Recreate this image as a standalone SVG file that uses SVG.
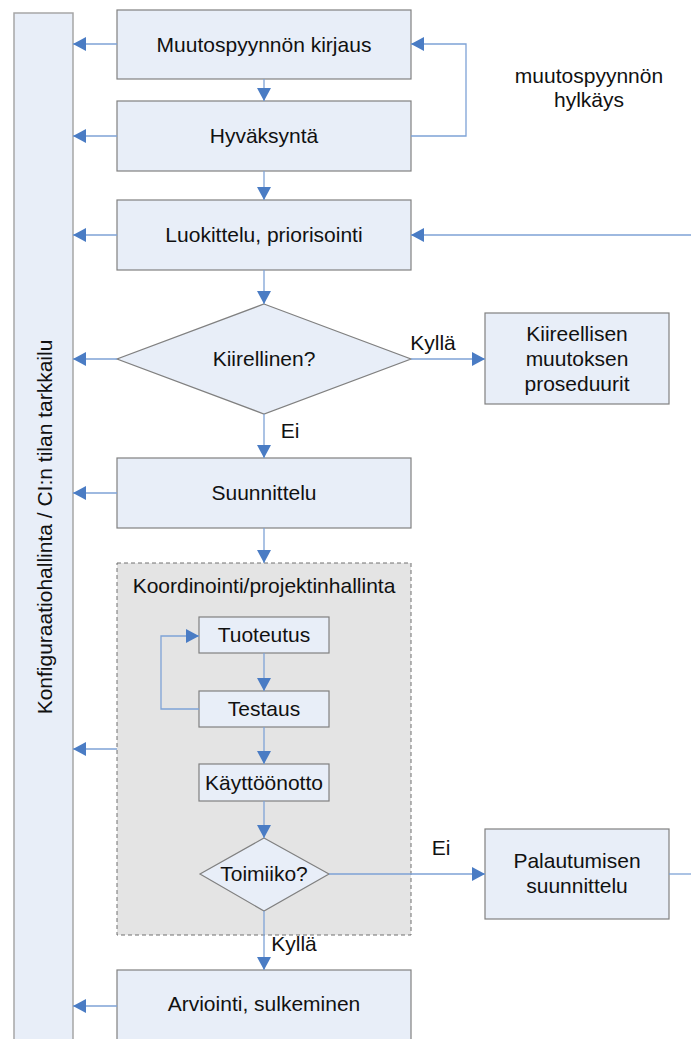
<svg xmlns="http://www.w3.org/2000/svg" width="691" height="1039" viewBox="0 0 691 1039">
  <style>
    .box { fill: #e8eef8; stroke: #808080; stroke-width: 1.2; }
    .bar { fill: #e8eef8; stroke: #a6a6a6; stroke-width: 1.5; }
    .group { fill: #e4e4e4; stroke: #707070; stroke-width: 1; stroke-dasharray: 4 3; }
    .lbl { font-family: "Liberation Sans", Arial, sans-serif; font-size: 21px; fill: #111; text-anchor: middle; }
    .side { font-family: "Liberation Sans", Arial, sans-serif; font-size: 21px; fill: #111; }
    .conn path { fill: none; stroke: #7ea2d6; stroke-width: 1.3; }
    .conn path.arrow { marker-end: url(#head); }
  </style>
  <defs>
    <marker id="head" viewBox="0 0 13 14" refX="13" refY="7" markerWidth="13" markerHeight="14" markerUnits="userSpaceOnUse" orient="auto">
      <path d="M0,0 L13,7 L0,14 Z" fill="#4a7cc4"/>
    </marker>
  </defs>

  <!-- side bar: configuration management -->
  <g id="config-bar">
    <rect class="bar" x="14" y="13" width="59" height="1040"/>
    <text class="side" text-anchor="middle" transform="translate(52,527) rotate(-90)">Konfiguraatiohallinta / CI:n tilan tarkkailu</text>
  </g>

  <!-- coordination group -->
  <g id="coordination">
    <rect class="group" x="117" y="563" width="294" height="372"/>
    <text class="lbl" x="264" y="593">Koordinointi/projektinhallinta</text>
  </g>

  <g id="request">
    <rect class="box" x="117" y="10" width="294" height="69"/>
    <text class="lbl" x="264" y="52">Muutospyynnön kirjaus</text>
  </g>
  <g id="approval">
    <rect class="box" x="117" y="101" width="294" height="70"/>
    <text class="lbl" x="264" y="143">Hyväksyntä</text>
  </g>
  <g id="classify">
    <rect class="box" x="117" y="200" width="294" height="70"/>
    <text class="lbl" x="264" y="242">Luokittelu, priorisointi</text>
  </g>
  <g id="urgent">
    <path class="box" d="M264,304 L411,359 L264,414 L117,359 Z"/>
    <text class="lbl" x="264" y="366">Kiirellinen?</text>
  </g>
  <g id="urgent-procedures">
    <rect class="box" x="485" y="313" width="184" height="91"/>
    <text class="lbl" x="577" y="341">Kiireellisen</text>
    <text class="lbl" x="577" y="366">muutoksen</text>
    <text class="lbl" x="577" y="391">proseduurit</text>
  </g>
  <g id="design">
    <rect class="box" x="117" y="458" width="294" height="70"/>
    <text class="lbl" x="264" y="500">Suunnittelu</text>
  </g>
  <g id="implementation">
    <rect class="box" x="199" y="617" width="130" height="36"/>
    <text class="lbl" x="264" y="642">Tuoteutus</text>
  </g>
  <g id="testing">
    <rect class="box" x="199" y="691" width="130" height="36"/>
    <text class="lbl" x="264" y="716">Testaus</text>
  </g>
  <g id="deployment">
    <rect class="box" x="199" y="764" width="130" height="37"/>
    <text class="lbl" x="264" y="790">Käyttöönotto</text>
  </g>
  <g id="works">
    <path class="box" d="M264,838 L329,874 L264,911 L200,874 Z"/>
    <text class="lbl" x="264" y="881">Toimiiko?</text>
  </g>
  <g id="recovery">
    <rect class="box" x="485" y="829" width="184" height="90"/>
    <text class="lbl" x="577" y="868">Palautumisen</text>
    <text class="lbl" x="577" y="893">suunnittelu</text>
  </g>
  <g id="review">
    <rect class="box" x="117" y="970" width="294" height="80"/>
    <text class="lbl" x="264" y="1011">Arviointi, sulkeminen</text>
  </g>

  <!-- connectors -->
  <g id="connectors" class="conn">
    <path class="arrow" d="M117,44 H73"/>
    <path class="arrow" d="M117,136 H73"/>
    <path class="arrow" d="M117,235 H73"/>
    <path class="arrow" d="M117,359 H73"/>
    <path class="arrow" d="M117,493 H73"/>
    <path class="arrow" d="M117,749 H73"/>
    <path class="arrow" d="M117,1006 H73"/>
    <path class="arrow" d="M264,79 V101"/>
    <path class="arrow" d="M264,171 V200"/>
    <path class="arrow" d="M264,270 V304"/>
    <path class="arrow" d="M264,414 V458"/>
    <path class="arrow" d="M264,528 V563"/>
    <path class="arrow" d="M411,136 H466 V44 H411"/>
    <path class="arrow" d="M691,235 H411"/>
    <path class="arrow" d="M411,359 H485"/>
    <path class="arrow" d="M264,653 V691"/>
    <path class="arrow" d="M264,727 V764"/>
    <path class="arrow" d="M199,709 H161 V636 H199"/>
    <path class="arrow" d="M264,801 V838"/>
    <path class="arrow" d="M329,874 H485"/>
    <path d="M669,874 H691"/>
    <path class="arrow" d="M264,911 V970"/>
  </g>

  <!-- connector labels -->
  <g id="labels">
    <text class="lbl" x="589" y="83">muutospyynnön</text>
    <text class="lbl" x="589" y="107">hylkäys</text>
    <text class="lbl" x="433" y="350">Kyllä</text>
    <text class="lbl" x="290" y="438">Ei</text>
    <text class="lbl" x="441" y="855">Ei</text>
    <text class="lbl" x="294" y="951">Kyllä</text>
  </g>
</svg>
